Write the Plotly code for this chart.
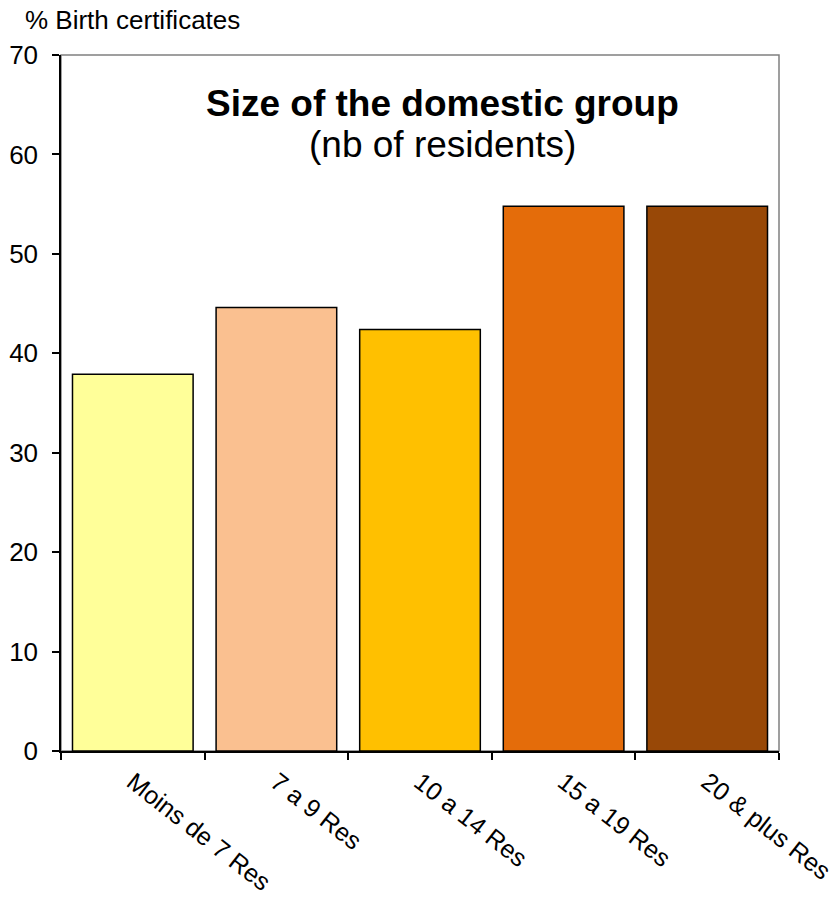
import plotly.graph_objects as go

categories = ["Moins de 7 Res", "7 a 9 Res", "10 a 14 Res", "15 a 19 Res", "20 & plus Res"]
values = [37.9, 44.6, 42.4, 54.8, 54.8]
colors = ["#FFFF99", "#FAC090", "#FFC000", "#E46C0A", "#984807"]

y_ticks = [0, 10, 20, 30, 40, 50, 60, 70]

font = "Liberation Sans, Arial, sans-serif"

fig = go.Figure(
    go.Bar(
        x=categories,
        y=values,
        marker=dict(color=colors, line=dict(color="#000000", width=1.5)),
        hoverinfo="x+y",
    )
)

fig.update_layout(
    width=836,
    height=897,
    margin=dict(l=61, r=57, t=55, b=146),
    paper_bgcolor="white",
    plot_bgcolor="white",
    bargap=0.16,
    showlegend=False,
    font=dict(family=font, size=26, color="black"),
    shapes=[
        dict(type="rect", xref="paper", yref="paper", x0=0, x1=1, y0=0, y1=1,
             line=dict(color="#808080", width=1.5), layer="below"),
    ],
    annotations=[
        dict(text="% Birth certificates", xref="paper", yref="paper", x=-0.053, y=1.050,
             xanchor="left", yanchor="middle", showarrow=False,
             font=dict(family=font, size=26, color="black")),
        dict(text="<b>Size of the domestic group</b>", xref="paper", yref="paper",
             x=0.532, y=0.931, xanchor="center", yanchor="middle", showarrow=False,
             font=dict(family=font, size=37, color="black")),
        dict(text="(nb of residents)", xref="paper", yref="paper",
             x=0.532, y=0.871, xanchor="center", yanchor="middle", showarrow=False,
             font=dict(family=font, size=37, color="black")),
    ],
)

fig.update_xaxes(
    showline=True, linecolor="black", linewidth=1.5,
    ticks="outside", ticklen=7, tickcolor="black", tickwidth=1.5,
    tickson="boundaries", tickangle=38, automargin=False,
    ticklabelstandoff=5,
    tickfont=dict(family=font, size=25, color="black"),
    showgrid=False, zeroline=False,
)
fig.update_yaxes(
    range=[0, 70], tickvals=y_ticks, automargin=False,
    showline=True, linecolor="black", linewidth=1.5,
    ticks="outside", ticklen=7, tickcolor="black", tickwidth=1.5,
    ticklabelstandoff=9,
    tickfont=dict(family=font, size=26, color="black"),
    showgrid=False, zeroline=False,
)

fig.write_html("out.html")
